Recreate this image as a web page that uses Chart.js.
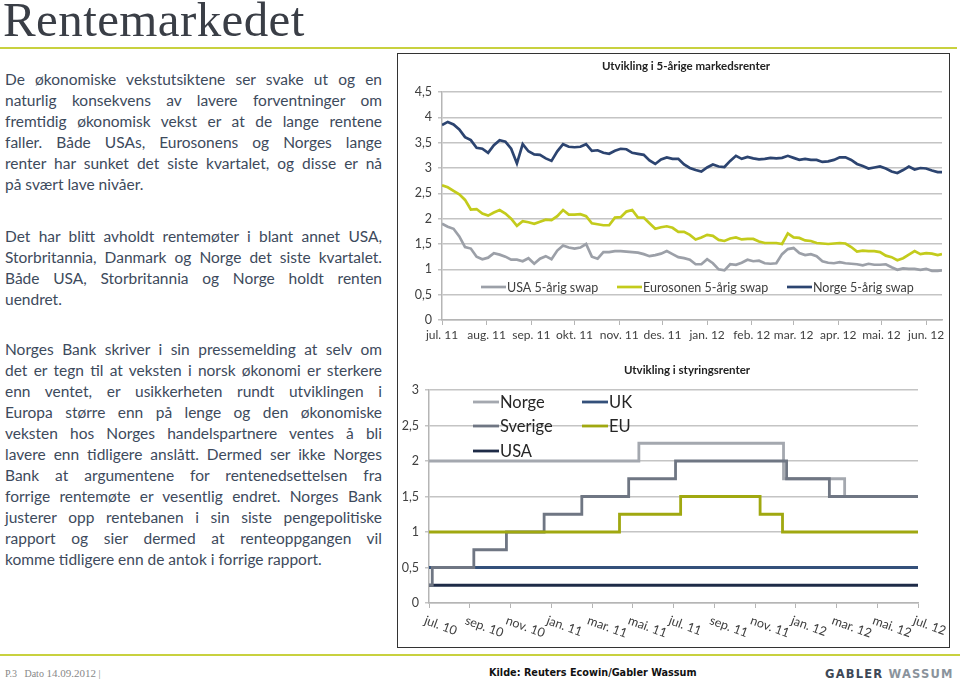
<!DOCTYPE html>
<html>
<head>
<meta charset="utf-8">
<script src="https://cdn.jsdelivr.net/npm/chart.js@4.4.0/dist/chart.umd.min.js"></script>
<style>
body { margin:0; width:960px; height:685px; position:relative; background:#fff; overflow:hidden; font-family:Lato, sans-serif; }
#title { position:absolute; left:3px; top:-9px; font-family:'Liberation Serif', serif; font-size:49px; color:#3a3e46; letter-spacing:0.4px; }
.rule { position:absolute; left:0; height:2px; background:#c8d13f; }
.para { position:absolute; left:5px; width:377px; color:#3d4a5c; font-size:15.5px; line-height:21px; }
.para span { display:block; text-align:justify; text-align-last:justify; white-space:nowrap; }
.para span.last { text-align-last:left; }
#box { position:absolute; left:397px; top:53px; width:551px; height:593px; border:1.5px solid #333; }
canvas { position:absolute; }
#foot1 { position:absolute; left:5px; top:667px; font-family:'Liberation Serif', serif; font-size:10px; color:#888; }
#foot2 { position:absolute; left:489px; top:667px; font-family:'DejaVu Sans', sans-serif; font-weight:bold; font-size:9.7px; color:#111; }
#foot3 { position:absolute; left:825px; top:667px; font-family:'DejaVu Sans', sans-serif; font-weight:bold; font-size:11.5px; letter-spacing:1.2px; color:#3d4856; }
#foot3 b { color:#8a939c; }
</style>
</head>
<body>
<div id="title">Rentemarkedet</div>
<div class="rule" style="top:47px;width:957px"></div>

<div class="para" style="top:69px">
<span>De økonomiske vekstutsiktene ser svake ut og en</span>
<span>naturlig konsekvens av lavere forventninger om</span>
<span>fremtidig økonomisk vekst er at de lange rentene</span>
<span>faller. Både USAs, Eurosonens og Norges lange</span>
<span>renter har sunket det siste kvartalet, og disse er nå</span>
<span class="last">på svært lave nivåer.</span>
</div>
<div class="para" style="top:226px">
<span>Det har blitt avholdt rentemøter i blant annet USA,</span>
<span>Storbritannia, Danmark og Norge det siste kvartalet.</span>
<span>Både USA, Storbritannia og Norge holdt renten</span>
<span class="last">uendret.</span>
</div>
<div class="para" style="top:339px">
<span>Norges Bank skriver i sin pressemelding at selv om</span>
<span>det er tegn til at veksten i norsk økonomi er sterkere</span>
<span>enn ventet, er usikkerheten rundt utviklingen i</span>
<span>Europa større enn på lenge og den økonomiske</span>
<span>veksten hos Norges handelspartnere ventes å bli</span>
<span>lavere enn tidligere anslått. Dermed ser ikke Norges</span>
<span>Bank at argumentene for rentenedsettelsen fra</span>
<span>forrige rentemøte er vesentlig endret. Norges Bank</span>
<span>justerer opp rentebanen i sin siste pengepolitiske</span>
<span>rapport og sier dermed at renteoppgangen vil</span>
<span class="last">komme tidligere enn de antok i forrige rapport.</span>
</div>

<div id="box"></div>
<canvas id="swapChart" width="551" height="296" style="left:398px;top:54px"></canvas>
<canvas id="rateChart" width="551" height="297" style="left:398px;top:350px"></canvas>

<div class="rule" style="top:654px;width:960px"></div>
<div id="foot1">P.3 &nbsp; Dato <span style="font-size:11px">14.09.2012</span> |</div>
<div id="foot2">Kilde: Reuters Ecowin/Gabler Wassum</div>
<div id="foot3">GABLER <b>WASSUM</b></div>

<script>
// 5-year swap rates, read every 4 days from 1 Jul 2011
var swapDays = [0,4,8,12,16,20,24,28,32,36,40,44,48,52,56,60,64,68,72,76,80,84,88,92,96,100,
  104,108,112,116,120,124,128,132,136,140,144,148,152,156,160,164,168,172,176,180,184,188,192,196,
  200,204,208,212,216,220,224,228,232,236,240,244,248,252,256,260,264,268,272,276,280,284,288,292,
  296,300,304,308,312,316,320,324,328,332,336,340,344,347];
var usaSwap = [1.90,1.84,1.80,1.65,1.44,1.41,1.25,1.20,1.23,1.32,1.29,1.25,1.19,1.19,1.16,1.22,1.11,1.21,1.26,1.20,
  1.37,1.47,1.43,1.41,1.43,1.50,1.25,1.21,1.34,1.34,1.36,1.36,1.35,1.34,1.33,1.30,1.26,1.28,1.31,1.36,
  1.30,1.24,1.22,1.19,1.10,1.10,1.20,1.12,1.00,0.98,1.10,1.09,1.13,1.19,1.16,1.17,1.12,1.11,1.12,1.30,
  1.40,1.42,1.32,1.28,1.30,1.26,1.16,1.13,1.12,1.14,1.12,1.11,1.10,1.08,1.11,1.09,1.09,1.10,1.04,0.99,
  1.02,1.01,1.01,0.99,1.01,0.97,0.97,0.98];
var euroSwap = [2.66,2.62,2.55,2.48,2.37,2.18,2.19,2.10,2.06,2.12,2.17,2.10,2.00,1.86,1.95,1.93,1.90,1.94,1.98,1.97,
  2.05,2.17,2.08,2.08,2.09,2.05,1.91,1.89,1.87,1.87,2.02,2.03,2.14,2.17,2.02,2.02,1.91,1.80,1.83,1.85,
  1.82,1.74,1.74,1.68,1.59,1.63,1.68,1.66,1.58,1.56,1.61,1.63,1.59,1.60,1.60,1.55,1.52,1.52,1.52,1.50,
  1.71,1.63,1.62,1.57,1.56,1.52,1.51,1.50,1.51,1.52,1.51,1.44,1.35,1.37,1.36,1.36,1.34,1.27,1.24,1.18,
  1.22,1.29,1.36,1.30,1.32,1.31,1.28,1.30];
var norgeSwap = [3.85,3.91,3.86,3.76,3.61,3.55,3.40,3.38,3.30,3.45,3.55,3.52,3.38,3.09,3.47,3.33,3.27,3.26,3.19,3.14,
  3.33,3.47,3.42,3.41,3.42,3.47,3.34,3.35,3.30,3.28,3.34,3.38,3.37,3.30,3.28,3.26,3.15,3.08,3.17,3.21,
  3.18,3.18,3.07,3.00,2.96,2.93,3.01,3.07,3.03,3.02,3.14,3.24,3.18,3.22,3.19,3.17,3.18,3.20,3.19,3.20,
  3.24,3.20,3.16,3.18,3.16,3.16,3.12,3.13,3.16,3.21,3.21,3.16,3.08,3.04,2.99,3.01,3.03,2.99,2.93,2.90,
  2.96,3.03,2.97,3.00,2.99,2.95,2.92,2.92];
var swapMonthDays = [0,31,62,92,123,153,184,215,244,275,305,336];
var swapMonthLabels = ['jul. 11','aug. 11','sep. 11','okt. 11','nov. 11','des. 11','jan. 12','feb. 12','mar. 12','apr. 12','mai. 12','jun. 12'];

// policy rates, [month since jul 2010, new rate]
var policyMonthLabels = ['jul. 10','sep. 10','nov. 10','jan. 11','mar. 11','mai. 11','jul. 11','sep. 11','nov. 11','jan. 12','mar. 12','mai. 12','jul. 12'];
var norgeRate = [[0,2],[10.3,2.25],[17.4,1.75],[20.4,1.5],[24,1.5]];
var sverigeRate = [[0,0.25],[0.16,0.5],[2.2,0.75],[3.8,1],[5.65,1.25],[7.5,1.5],[9.8,1.75],[12.1,2],[17.55,1.75],[19.65,1.5],[24,1.5]];
var ukRate = [[0,0.5],[24,0.5]];
var euRate = [[0,1],[9.35,1.25],[12.35,1.5],[16.25,1.25],[17.35,1],[24,1]];
var usaRate = [[0,0.25],[24,0.25]];

function toPoints(xs, ys) {
    return xs.map(function (x, i) { return {x: x, y: ys[i]}; });
}
function pairPoints(pairs) {
    return pairs.map(function (p) { return {x: p[0], y: p[1]}; });
}
function commaTick(v) {
    return String(v).replace('.', ',');
}

// title centred where the original puts it
var areaTitle = {
    id: 'areaTitle',
    afterDraw: function (chart, args, opts) {
        var ctx = chart.ctx;
        ctx.save();
        ctx.font = opts.font;
        ctx.fillStyle = opts.color;
        ctx.textAlign = 'center';
        ctx.textBaseline = 'middle';
        ctx.fillText(opts.text, opts.x, opts.y);
        ctx.restore();
    }
};

// legend drawn inside the plot area
var innerLegend = {
    id: 'innerLegend',
    afterDatasetsDraw: function (chart, args, opts) {
        var ctx = chart.ctx, area = chart.chartArea;
        ctx.save();
        ctx.font = opts.font;
        ctx.textBaseline = 'middle';
        ctx.textAlign = 'left';
        chart.data.datasets.forEach(function (ds, i) {
            var p = opts.positions[i];
            var x = area.left + p[0], y = area.top + p[1];
            ctx.strokeStyle = ds.borderColor;
            ctx.lineWidth = ds.borderWidth;
            ctx.beginPath();
            ctx.moveTo(x, y);
            ctx.lineTo(x + opts.lineLength, y);
            ctx.stroke();
            ctx.fillStyle = opts.color;
            ctx.fillText(ds.label, x + opts.lineLength + 1, y + 1);
        });
        ctx.restore();
    }
};

// slanted month labels (text runs down to the right from the tick)
var slantedTicks = {
    id: 'slantedTicks',
    afterDraw: function (chart, args, opts) {
        var scale = chart.scales.x, ctx = chart.ctx;
        ctx.save();
        ctx.font = opts.font;
        ctx.fillStyle = opts.color;
        ctx.textAlign = 'left';
        ctx.textBaseline = 'top';
        scale.ticks.forEach(function (t) {
            var x = scale.getPixelForValue(t.value);
            ctx.save();
            ctx.translate(x + opts.dx, scale.top + opts.dy);
            ctx.rotate(opts.angle * Math.PI / 180);
            ctx.fillText(t.label, 0, 0);
            ctx.restore();
        });
        ctx.restore();
    }
};

Chart.defaults.font.family = 'Lato, sans-serif';
Chart.defaults.color = '#404040';

var swapChart = new Chart(document.getElementById('swapChart'), {
    type: 'line',
    data: {
        datasets: [
            {label: 'USA 5-årig swap', data: toPoints(swapDays, usaSwap), borderColor: '#9ca0a8', borderWidth: 2.7},
            {label: 'Eurosonen 5-årig swap', data: toPoints(swapDays, euroSwap), borderColor: '#c3cb1c', borderWidth: 2.7},
            {label: 'Norge 5-årig swap', data: toPoints(swapDays, norgeSwap), borderColor: '#2c4470', borderWidth: 2.7}
        ]
    },
    options: {
        responsive: false,
        animation: false,
        elements: {point: {radius: 0}, line: {tension: 0}},
        layout: {padding: {top: 38, right: 7, left: 0, bottom: 0}},
        plugins: {
            legend: {display: false},
            tooltip: {enabled: false},
            areaTitle: {text: 'Utvikling i 5-årige markedsrenter', font: 'bold 11.5px Lato', color: '#222', x: 288, y: 12},
            innerLegend: {font: '12.5px Lato', color: '#404040', lineLength: 25,
                positions: [[39, 195], [175, 195], [345, 195]]}
        },
        scales: {
            x: {
                type: 'linear', min: 0, max: 347,
                afterBuildTicks: function (scale) {
                    scale.ticks = swapMonthDays.map(function (d) { return {value: d}; });
                },
                afterFit: function (scale) { scale.height = 30; },
                ticks: {
                    autoSkip: false, maxRotation: 0, padding: 3, font: {size: 12},
                    callback: function (v) { return swapMonthLabels[swapMonthDays.indexOf(v)]; }
                },
                grid: {drawOnChartArea: false, tickLength: 5, color: '#b5b5b5', lineWidth: 1},
                border: {color: '#b5b5b5', width: 1.5}
            },
            y: {
                min: 0, max: 4.5,
                afterFit: function (scale) { scale.width = 44; },
                ticks: {stepSize: 0.5, padding: 6, font: {size: 12.5}, callback: commaTick},
                grid: {color: '#c4c4c4', lineWidth: 1.5, tickLength: 4},
                border: {color: '#b5b5b5', width: 1.5}
            }
        }
    },
    plugins: [areaTitle, innerLegend]
});

var rateChart = new Chart(document.getElementById('rateChart'), {
    type: 'line',
    data: {
        datasets: [
            {label: 'Norge', data: pairPoints(norgeRate), borderColor: '#a4a8af', borderWidth: 2.8, stepped: true, order: 4},
            {label: 'UK', data: pairPoints(ukRate), borderColor: '#34507a', borderWidth: 2.8, stepped: true, order: 2},
            {label: 'Sverige', data: pairPoints(sverigeRate), borderColor: '#6f7683', borderWidth: 2.8, stepped: true, order: 1},
            {label: 'EU', data: pairPoints(euRate), borderColor: '#a0a810', borderWidth: 2.8, stepped: true, order: 0},
            {label: 'USA', data: pairPoints(usaRate), borderColor: '#1e2b47', borderWidth: 2.8, stepped: true, order: 3}
        ]
    },
    options: {
        responsive: false,
        animation: false,
        elements: {point: {radius: 0}},
        layout: {padding: {top: 40, right: 31, left: 0, bottom: 0}},
        plugins: {
            legend: {display: false},
            tooltip: {enabled: false},
            areaTitle: {text: 'Utvikling i styringsrenter', font: 'bold 11.5px Lato', color: '#222', x: 289, y: 20},
            innerLegend: {font: '16.5px Lato', color: '#262626', lineLength: 26,
                positions: [[44, 12], [153, 12], [44, 36], [153, 36], [44, 61]]},
            slantedTicks: {font: '12.5px Lato', color: '#404040', dx: -2, dy: 11, angle: 20}
        },
        scales: {
            x: {
                type: 'linear', min: 0, max: 24,
                afterFit: function (scale) { scale.height = 44; },
                ticks: {
                    stepSize: 2, display: false,
                    callback: function (v) { return policyMonthLabels[v / 2]; }
                },
                grid: {drawOnChartArea: false, tickLength: 5, color: '#b5b5b5', lineWidth: 1},
                border: {color: '#b5b5b5', width: 1.5}
            },
            y: {
                min: 0, max: 3,
                afterFit: function (scale) { scale.width = 31; },
                ticks: {stepSize: 0.5, padding: 6, font: {size: 12.5}, callback: commaTick},
                grid: {color: '#c4c4c4', lineWidth: 1.5, tickLength: 4},
                border: {color: '#b5b5b5', width: 1.5}
            }
        }
    },
    plugins: [areaTitle, innerLegend, slantedTicks]
});
</script>
</body>
</html>
